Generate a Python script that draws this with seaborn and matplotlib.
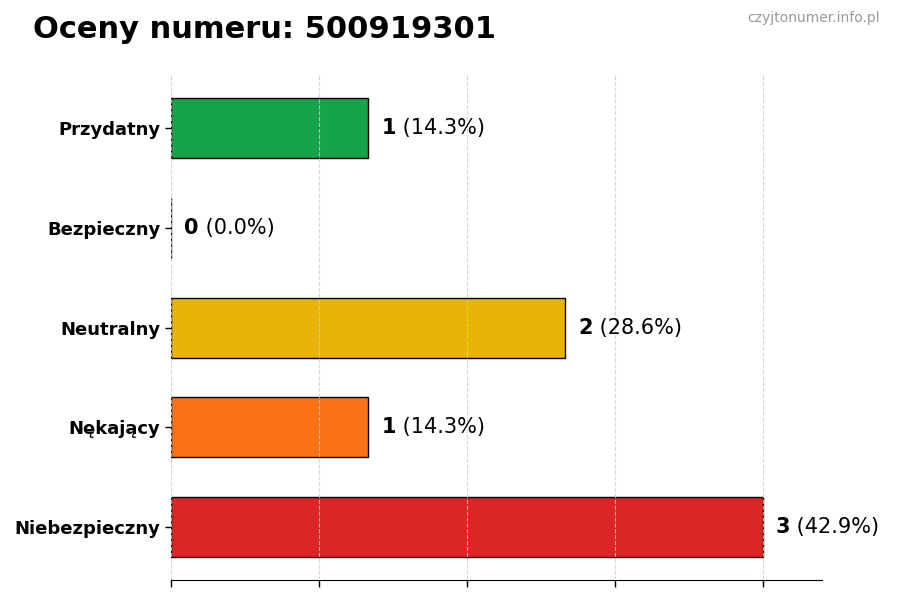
import matplotlib
matplotlib.use('Agg')
import matplotlib.pyplot as plt
import seaborn as sns
import pandas as pd

categories = ['Przydatny', 'Bezpieczny', 'Neutralny', 'Nękający', 'Niebezpieczny']
counts = [1, 0, 2, 1, 3]
colors = ['#16a34a', '#15803d', '#eab308', '#f97316', '#dc2626']
number = '500919301'

total = sum(counts)
df = pd.DataFrame({'Kategoria': categories, 'Liczba': counts})

sns.set_style('white')
plt.rcParams['font.family'] = ['DejaVu Sans']
plt.rcParams['text.color'] = 'black'
plt.rcParams['axes.labelcolor'] = 'black'
plt.rcParams['xtick.color'] = 'black'
plt.rcParams['ytick.color'] = 'black'

fig, ax = plt.subplots(figsize=(9, 6), dpi=100)
fig.subplots_adjust(left=0.19, right=0.913, top=0.875, bottom=0.033)

sns.barplot(data=df, y='Kategoria', x='Liczba', hue='Kategoria', palette=colors,
            orient='h', width=0.6, edgecolor='black', linewidth=1, saturation=1,
            legend=False, ax=ax)

mx = max(counts)
n = len(categories)
ax.set_xlim(0, mx * 1.1)
ax.set_ylim(n - 1 + 0.53, -0.53)
ax.set_xticks([mx * i / 4 for i in range(5)])
ax.set_xticklabels([])
ax.set_xlabel('')
ax.set_ylabel('')
ax.grid(axis='x', linestyle='--', color='#cccccc', alpha=0.8, linewidth=0.8)
ax.set_axisbelow(False)
ax.tick_params(axis='x', length=5, width=1, bottom=True)
ax.tick_params(axis='y', length=4, width=1, left=True)
for lab in ax.get_yticklabels():
    lab.set_fontweight('bold')
    lab.set_fontsize(13)
    lab.set_color('black')
sns.despine(ax=ax, left=True)
ax.spines['bottom'].set_color('black')

for i, c in enumerate(counts):
    pct = c / total * 100 if total else 0
    t = ax.text(c + mx * 0.022, i, f'{c}', fontsize=15, fontweight='bold',
                va='center', ha='left', color='black')
    ax.annotate(f' ({pct:.1f}%)', xy=(1, 0.5), xycoords=t, fontsize=15,
                va='center', ha='left', color='black')

fig.text(0.037, 0.95, f'Oceny numeru: {number}', fontsize=22, fontweight='bold',
         va='center', ha='left', color='black')
fig.text(0.978, 0.97, 'czyjtonumer.info.pl', fontsize=10, color='#999999',
         va='center', ha='right')

plt.savefig('out.png', dpi=100)
